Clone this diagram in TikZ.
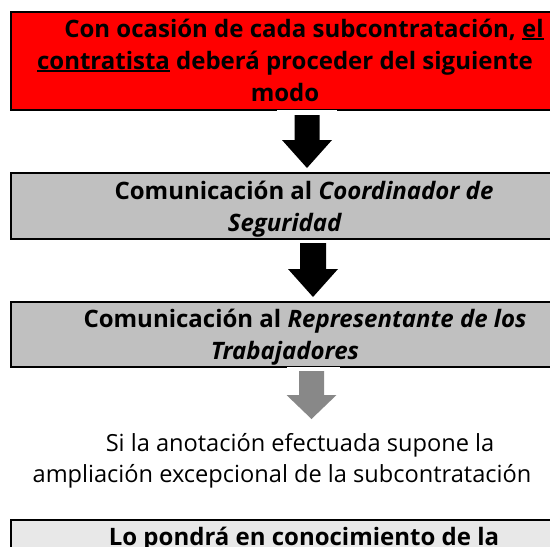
\documentclass[tikz,border=0pt]{standalone}
\usepackage{fontspec}
\setmainfont{Open Sans}
\newcommand\myul[1]{{\setbox0\hbox{#1}\rlap{\rule[-3pt]{\wd0}{1.8pt}}\box0}}
\newcommand\blockarrow[7]{%
  \fill[#7] (#2-#3,#4) -- (#2+#3,#4) -- (#2+#3,#5) -- (#2+25,#5) -- (#2,#6) -- (#2-25,#5) -- (#2-#3,#5) -- cycle;
  \coordinate (#1) at (#2,#6);}
\definecolor{boxred}{HTML}{FF0000}
\definecolor{boxgrey}{HTML}{C0C0C0}
\definecolor{boxlight}{HTML}{E8E8E8}
\definecolor{arrowgrey}{HTML}{888888}
\tikzset{
  boxbase/.style={draw=black, line width=2pt, rectangle, inner sep=0pt, outer sep=0pt},
  boldline/.style={anchor=base, inner sep=0pt, font=\fontsize{24}{32}\selectfont\bfseries},
  plainline/.style={anchor=base, inner sep=0pt, font=\fontsize{23.6}{32}\selectfont},
}
\begin{document}
\begin{tikzpicture}[x=1pt,y=-1pt]
\useasboundingbox (0,0) rectangle (550,547);
\clip (0,0) rectangle (550,547);
\fill[white] (0,0) rectangle (550,547);
% boxes
\node[boxbase, fill=boxred, minimum width=550pt, minimum height=98pt] (b1) at (286,61) {};
\node[boxbase, fill=boxgrey, minimum width=550pt, minimum height=66pt] (b2) at (286,206) {};
\node[boxbase, fill=boxgrey, minimum width=550pt, minimum height=65pt] (b3) at (286,334.5) {};
\node[boxbase, fill=boxlight, minimum width=550pt, minimum height=80pt] (b4) at (286,560) {};
% white notches
\fill[white] (277,109.5) rectangle (337,113);
\fill[white] (287,366.5) rectangle (340,370);
% box 1 text
\node[boldline] (t11) at (304,37) {Con ocasión de cada subcontratación, \myul{el}};
\node[boldline] (t12) at (285,69) {\myul{contratista} deberá proceder del siguiente};
\node[boldline] (t13) at (285,101) {modo};
% box 2 text
\node[boldline] (t21) at (304,199) {Comunicación al \textit{Coordinador de}};
\node[boldline] (t22) at (285,231) {\textit{Seguridad}};
% box 3 text
\node[boldline] (t31) at (305,327) {Comunicación al \textit{Representante de los}};
\node[boldline] (t32) at (285,359) {\textit{Trabajadores}};
% plain text
\node[plainline] (p1) at (300,451) {Si la anotación efectuada supone la};
\node[plainline] (p2) at (282,482) {ampliación excepcional de la subcontratación};
% box 4 text
\node[boldline] (t41) at (304,545) {Lo pondrá en conocimiento de la};
% arrows
\blockarrow{a1}{307}{12.5}{115}{140}{168}{black}
\blockarrow{a2}{313}{13}{243}{269}{297}{black}
\blockarrow{a3}{311.5}{12.5}{371}{395}{419}{arrowgrey}
\end{tikzpicture}
\end{document}
